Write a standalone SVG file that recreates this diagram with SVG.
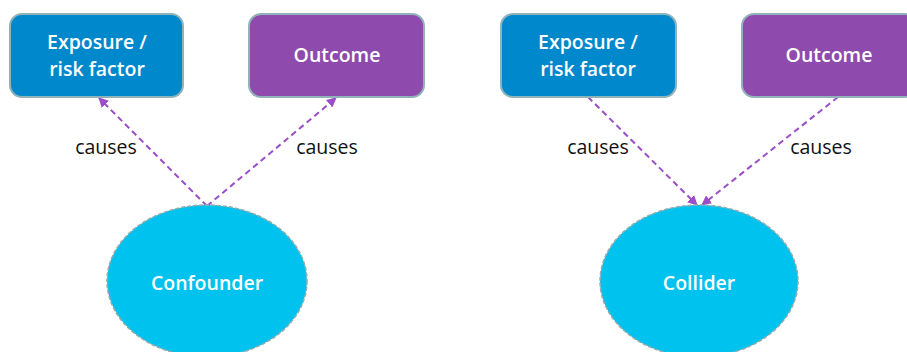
<svg xmlns="http://www.w3.org/2000/svg" width="907" height="352" viewBox="0 0 907 352">
<defs>
<style>
.box{stroke:#8fb3b8;stroke-width:2}
.exp{fill:#0088cc}
.out{fill:#8e4bad}
.ell{fill:#00c2ef;stroke:#9aa;stroke-width:1.5;stroke-dasharray:4 2}
.wt{fill:#fff;font-family:"Open Sans","Liberation Sans",sans-serif;font-size:19.5px;font-weight:600;text-anchor:middle}
.lbl{fill:#111;font-family:"Open Sans","Liberation Sans",sans-serif;font-size:19.5px;text-anchor:middle}
.edge{stroke:#9b4dca;stroke-width:2;stroke-dasharray:6 4;fill:none;marker-end:url(#ah)}
</style>
<marker id="ah" viewBox="0 0 10 10" refX="9" refY="5" markerWidth="5" markerHeight="5" orient="auto" markerUnits="strokeWidth">
<path d="M0,0 L10,5 L0,10 z" fill="#9b4dca"/>
</marker>
</defs>
<rect width="907" height="352" fill="#fff"/>
<g id="connectors">
<path class="edge" d="M207,206 L99,98"/>
<path class="edge" d="M207,206 L336,98"/>
<path class="edge" d="M588,97 L697,205"/>
<path class="edge" d="M838,97 L702,205"/>
<text class="lbl" x="106" y="154">causes</text>
<text class="lbl" x="327" y="154">causes</text>
<text class="lbl" x="598" y="154">causes</text>
<text class="lbl" x="821" y="154">causes</text>
</g>
<g id="exposure1">
<rect class="box exp" x="10" y="14" width="173" height="83" rx="12"/>
<text class="wt" x="97" y="49">Exposure /</text>
<text class="wt" x="97" y="76">risk factor</text>
</g>
<g id="outcome1">
<rect class="box out" x="249" y="14" width="175" height="83" rx="12"/>
<text class="wt" x="337" y="62">Outcome</text>
</g>
<g id="confounder">
<ellipse class="ell" cx="207" cy="281" rx="100" ry="76"/>
<text class="wt" x="207" y="290">Confounder</text>
</g>
<g id="exposure2">
<rect class="box exp" x="501" y="14" width="175" height="83" rx="12"/>
<text class="wt" x="588" y="49">Exposure /</text>
<text class="wt" x="588" y="76">risk factor</text>
</g>
<g id="outcome2">
<rect class="box out" x="742" y="14" width="175" height="83" rx="12"/>
<text class="wt" x="829" y="62">Outcome</text>
</g>
<g id="collider">
<ellipse class="ell" cx="699" cy="281" rx="99" ry="76"/>
<text class="wt" x="699" y="290">Collider</text>
</g>
</svg>
